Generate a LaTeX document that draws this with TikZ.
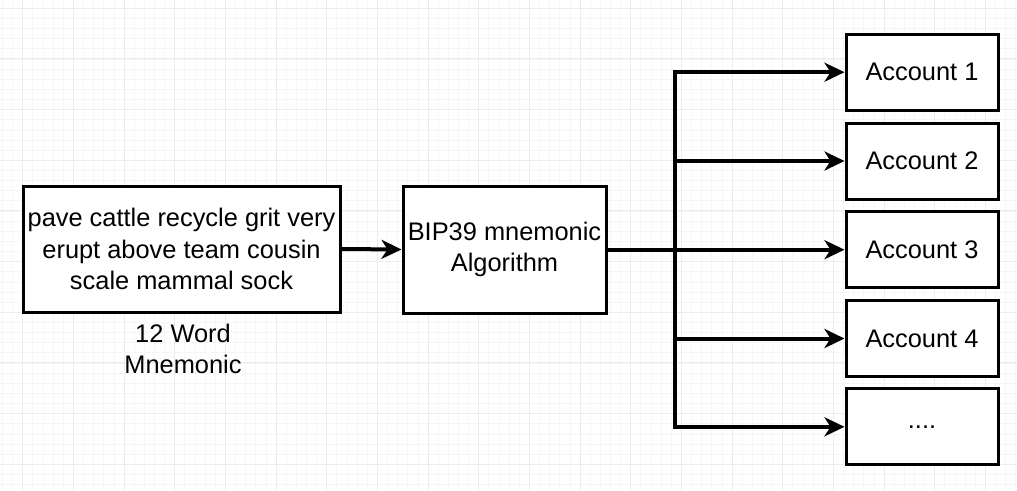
\documentclass[tikz,border=0pt]{standalone}
\usepackage{fontspec}
\setmainfont{Liberation Sans}
\usetikzlibrary{arrows.meta}
\definecolor{gridminor}{RGB}{246,246,246}
\definecolor{gridmajor}{RGB}{236,236,236}
\begin{document}
\begin{tikzpicture}[x=1pt,y=-1pt,
  box/.style={draw=black,line width=3pt,fill=white,inner sep=0pt,align=center,
    font=\fontsize{25.4}{31.5}\selectfont},
  conn/.style={line width=4pt,-{Stealth[length=20pt,width=19pt,inset=6pt]}},
  plain/.style={line width=4pt},
  lbl/.style={align=center,font=\fontsize{25.4}{31.5}\selectfont,inner sep=0pt}]
\useasboundingbox (0,0) rectangle (1017,490);
\fill[white] (0,0) rectangle (1017,490);
\begin{scope}
\clip (0,0) rectangle (1017,490);
\foreach \i in {-2,...,98} {
  \pgfmathsetmacro{\xx}{22.7+\i*10.1333}
  \draw[gridminor,line width=0.8pt] (\xx,0) -- (\xx,490);
}
\foreach \i in {0,...,47} {
  \pgfmathsetmacro{\yy}{8.3+\i*10.1333}
  \draw[gridminor,line width=0.8pt] (0,\yy) -- (1017,\yy);
}
\foreach \i in {0,...,19} {
  \pgfmathsetmacro{\xx}{22.7+\i*50.6667}
  \draw[gridmajor,line width=1pt] (\xx,0) -- (\xx,490);
}
\foreach \i in {0,...,9} {
  \pgfmathsetmacro{\yy}{8.3+\i*50.6667}
  \draw[gridmajor,line width=1pt] (0,\yy) -- (1017,\yy);
}
\end{scope}

\node[box,minimum width=317pt,minimum height=126pt] (words) at (181.5,249)
  {pave cattle recycle grit very\\erupt above team cousin\\scale mammal sock};
\node[lbl] (wlabel) at (183,349) {12 Word\\Mnemonic};
\node[box,minimum width=203pt,minimum height=127pt] (bip) at (504.5,249.5)
  {BIP39 mnemonic\\Algorithm};

\node[box,minimum width=152pt,minimum height=76pt] (a1) at (922,72.2) {Account 1};
\node[box,minimum width=152pt,minimum height=76pt] (a2) at (922,161) {Account 2};
\node[box,minimum width=152pt,minimum height=76pt] (a3) at (922,249.7) {Account 3};
\node[box,minimum width=152pt,minimum height=76pt] (a4) at (922,338.5) {Account 4};
\node[box,minimum width=152pt,minimum height=76pt] (a5) at (922,426.8) {....};

\coordinate (bus) at (675,249.5);
\draw[conn] (words.east) -- (bip.west);
\draw[plain] (bip.east) -- (bus);
\draw[plain,line cap=rect] (bus |- a1.west) -- (bus |- a5.west);
\foreach \n in {a1,a2,a3,a4,a5} {
  \draw[conn] (bus |- \n.west) -- (\n.west);
}
\end{tikzpicture}
\end{document}
